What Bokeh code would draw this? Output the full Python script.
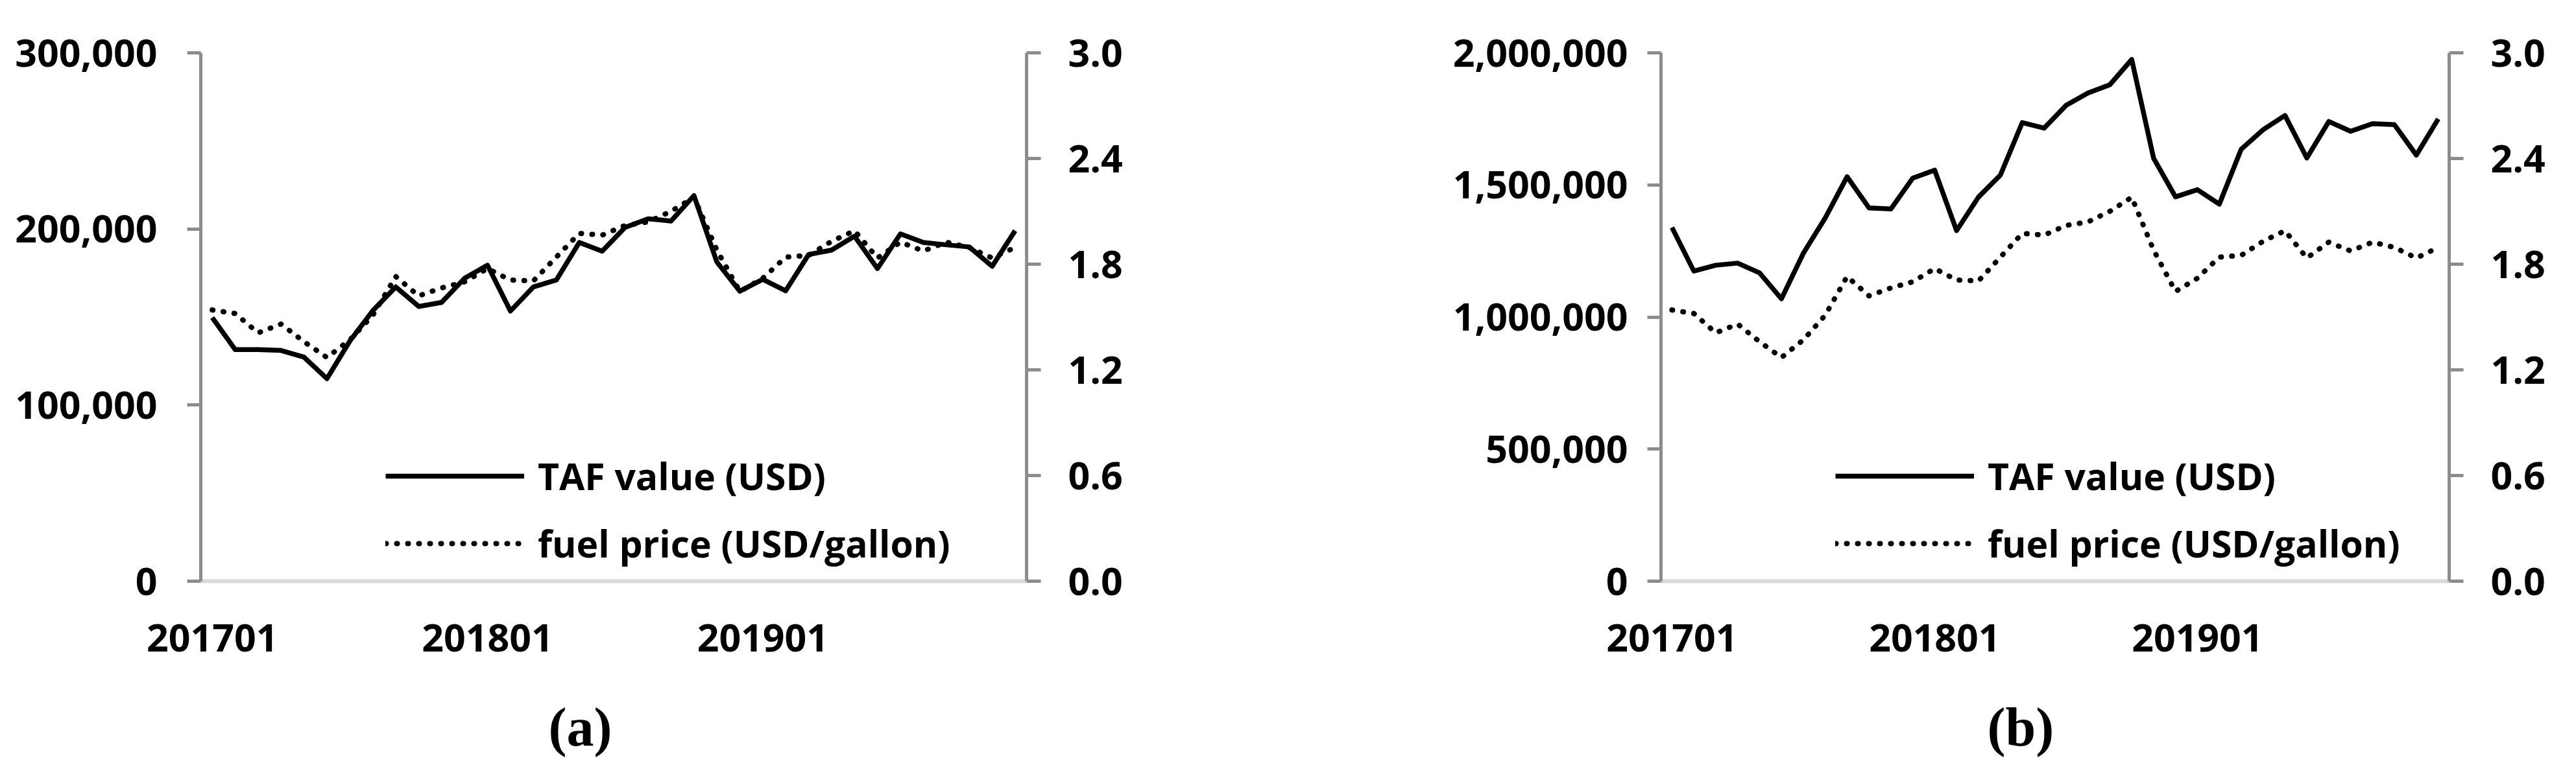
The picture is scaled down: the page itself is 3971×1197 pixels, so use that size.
from bokeh.plotting import figure
from bokeh.models import (Range1d, LinearAxis, FixedTicker, NumeralTickFormatter,
                          Legend, LegendItem, Title)
from bokeh.layouts import row
from bokeh.embed import file_html
from bokeh.resources import INLINE

# ---------------- data ----------------
months = ["201701", "201702", "201703", "201704", "201705", "201706",
          "201707", "201708", "201709", "201710", "201711", "201712",
          "201801", "201802", "201803", "201804", "201805", "201806",
          "201807", "201808", "201809", "201810", "201811", "201812",
          "201901", "201902", "201903", "201904", "201905", "201906",
          "201907", "201908", "201909", "201910", "201911", "201912"]

taf_a = [149700, 131500, 131500, 131000, 127200, 115000, 136400, 153600, 167100,
         156000, 158300, 172000, 179400, 153400, 167100, 171000, 192300, 187400,
         200900, 205800, 204500, 218900, 181200, 164700, 171400, 164900, 185500,
         188000, 195900, 177500, 197200, 192300, 191000, 189800, 178800, 199000]

taf_b = [1339000, 1174000, 1196000, 1204000, 1167000, 1069000, 1241000, 1375000,
         1531000, 1413000, 1409000, 1526000, 1556000, 1327000, 1454000, 1537000,
         1736000, 1715000, 1801000, 1848000, 1879000, 1975000, 1601000, 1455000,
         1482000, 1427000, 1635000, 1709000, 1763000, 1602000, 1740000, 1703000,
         1732000, 1728000, 1613000, 1750000]

fuel = [1.54, 1.52, 1.41, 1.46, 1.36, 1.27, 1.37, 1.51, 1.73, 1.62, 1.665, 1.70,
        1.775, 1.71, 1.705, 1.84, 1.975, 1.965, 2.02, 2.04, 2.10, 2.18, 1.88, 1.645,
        1.72, 1.84, 1.85, 1.93, 1.99, 1.835, 1.925, 1.875, 1.925, 1.895, 1.835, 1.895]

x_tick_idx = [0, 12, 24]
taf_a_ticks = [0, 100000, 200000, 300000]
taf_b_ticks = [0, 500000, 1000000, 1500000, 2000000]
fuel_ticks = [0, 0.6, 1.2, 1.8, 2.4, 3.0]

series_labels = ["TAF value (USD)", "fuel price (USD/gallon)"]
captions = ["(a)", "(b)"]

FONT = "Open Sans"
AXIS_GRAY = "#8c8c8c"
FRAME_H = 815


def panel(taf, taf_max, taf_ticks, frame_w, b_left, b_right, leg_x, y_std, caption, cap_off):
    xs = list(range(len(months)))
    p = figure(frame_width=frame_w, frame_height=FRAME_H, output_backend="svg",
               toolbar_location=None,
               x_range=Range1d(-0.5, len(months) - 0.5), y_range=Range1d(0, taf_max),
               min_border_left=b_left, min_border_right=b_right,
               min_border_top=81, min_border_bottom=270)
    p.outline_line_color = None
    p.xgrid.visible = False
    p.ygrid.visible = False
    p.background_fill_color = "white"
    p.border_fill_color = "white"
    p.extra_y_ranges = {"fuel": Range1d(0, 3.0)}

    r1 = p.line(xs, taf, line_color="black", line_width=7.5, line_join="round")
    r2 = p.line(xs, fuel, y_range_name="fuel", line_color="black", line_width=8,
                line_dash="1 16", line_cap="round", line_join="round")

    # x axis
    xa = p.xaxis[0]
    xa.ticker = FixedTicker(ticks=x_tick_idx)
    xa.major_label_overrides = {i: months[i] for i in x_tick_idx}
    xa.axis_line_color = "#d9d9d9"
    xa.axis_line_width = 6
    xa.major_tick_line_color = None
    xa.minor_tick_line_color = None
    xa.major_label_standoff = 60
    xa.major_label_text_font = FONT
    xa.major_label_text_font_style = "bold"
    xa.major_label_text_font_size = "59px"
    xa.major_label_text_color = "black"

    # left y axis
    ya = p.yaxis[0]
    ya.ticker = FixedTicker(ticks=taf_ticks)
    ya.formatter = NumeralTickFormatter(format="0,0")
    ya.axis_line_color = AXIS_GRAY
    ya.axis_line_width = 5
    ya.major_tick_line_color = AXIS_GRAY
    ya.major_tick_line_width = 5
    ya.major_tick_out = 21
    ya.major_tick_in = 0
    ya.minor_tick_line_color = None
    ya.major_label_standoff = y_std
    ya.major_label_text_font = FONT
    ya.major_label_text_font_style = "bold"
    ya.major_label_text_font_size = "59px"
    ya.major_label_text_color = "black"

    # right y axis
    ra = LinearAxis(y_range_name="fuel", ticker=FixedTicker(ticks=fuel_ticks),
                    formatter=NumeralTickFormatter(format="0.0"))
    ra.axis_line_color = AXIS_GRAY
    ra.axis_line_width = 5
    ra.major_tick_line_color = AXIS_GRAY
    ra.major_tick_line_width = 5
    ra.major_tick_out = 22
    ra.major_tick_in = 0
    ra.minor_tick_line_color = None
    ra.major_label_standoff = 42
    ra.major_label_text_font = FONT
    ra.major_label_text_font_style = "bold"
    ra.major_label_text_font_size = "59px"
    ra.major_label_text_color = "black"
    p.add_layout(ra, "right")

    legend = Legend(items=[LegendItem(label=series_labels[0], renderers=[r1]),
                           LegendItem(label=series_labels[1], renderers=[r2])],
                    location=(leg_x, 18), glyph_width=214, glyph_height=80,
                    label_height=80, label_standoff=21, spacing=24, padding=0,
                    margin=0, border_line_alpha=0, background_fill_alpha=0,
                    label_text_font=FONT, label_text_font_style="bold",
                    label_text_font_size="57px", label_text_color="black")
    p.add_layout(legend, "center")

    cap = Title(text=caption, align="left", offset=cap_off, standoff=131,
                text_font="Liberation Serif", text_font_size="84px",
                text_font_style="bold", text_color="black")
    p.add_layout(cap, "below")
    return p


p1 = panel(taf_a, 300000, taf_a_ticks, 1273, 309, 395, 285, 46, captions[0], 536)
p2 = panel(taf_b, 2000000, taf_b_ticks, 1215, 583, 180, 269, 30, captions[1], 503)

layout = row(p1, p2)
open("out.html", "w").write(file_html(layout, INLINE))
